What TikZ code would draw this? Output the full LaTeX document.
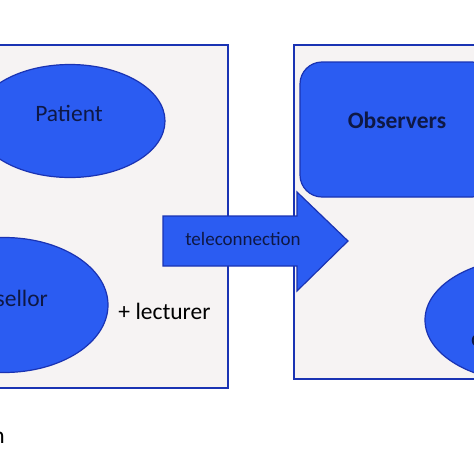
\documentclass[tikz,border=0pt]{standalone}
\usepackage{fontspec}
\setmainfont{Carlito}
\usetikzlibrary{shapes.geometric,positioning}
\definecolor{panel}{HTML}{F6F3F3}
\definecolor{blobfill}{HTML}{2B5CF2}
\definecolor{edgeblue}{HTML}{1A33B3}
\definecolor{ink}{HTML}{0E1845}

\begin{document}
\begin{tikzpicture}[
  x=1pt,y=-1pt,
  frame/.style={draw=edgeblue,line width=1.6pt,fill=panel},
  blob/.style={ellipse,draw=edgeblue,line width=1.2pt,fill=blobfill,inner sep=0pt},
  word/.style={font=\fontsize{23.5}{26}\selectfont,text=ink,inner sep=0pt},
]
  \useasboundingbox (0,0) rectangle (474,474);
  \clip (0,0) rectangle (474,474);

  % Panels
  \draw[frame] (-10,45) rectangle (228,388);
  \draw[frame] (294,45) rectangle (490,379);

  % Left panel
  \node[blob,minimum width=190pt,minimum height=113pt] (patient) at (70,121) {};
  \node[word] (patientlbl) at (69,113.5) {Patient};
  \node[blob,minimum width=208pt,minimum height=135pt] (couns) at (4,305) {};
  \node[word] (counslbl) at (-3,298.5) {Counsellor};
  \node[word,text=black] (lect) at (164.5,311) {+ lecturer};

  % Right panel
  \node[draw=edgeblue,line width=1.2pt,fill=blobfill,rounded corners=22pt,
        minimum width=194pt,minimum height=135pt] (obs) at (397,129.5) {};
  \node[word,font=\fontsize{23.5}{26}\selectfont\bfseries] (obslbl) at (397,120.5) {Observers};
  \node[blob,minimum width=208pt,minimum height=124pt] (client) at (529,320) {};
  \node[word,anchor=west] (clientlbl) at (471,338) {counsellor};

  % Arrow
  \draw[draw=edgeblue,line width=1.2pt,fill=blobfill]
    (163,216) -- (297,216) -- (297,192) -- (348,241) -- (297,291) -- (297,266) -- (163,266) -- cycle;
  \node[word,font=\fontsize{19}{22}\selectfont] (tele) at (243,239) {teleconnection};

  % Caption
  \node[word,text=black,anchor=base east] (cap) at (5,443) {Consultation};
\end{tikzpicture}
\end{document}
